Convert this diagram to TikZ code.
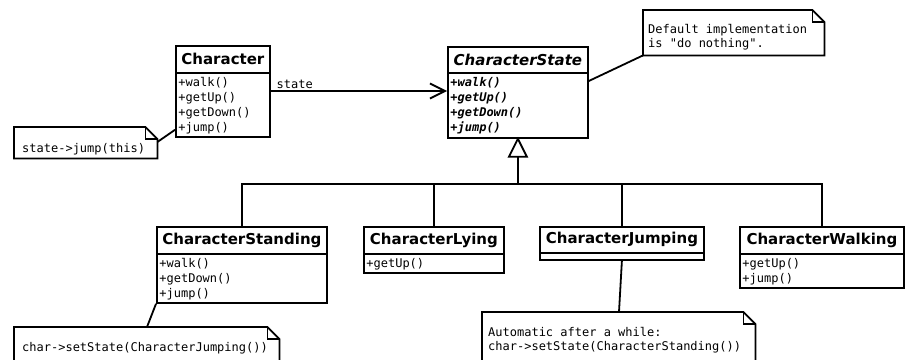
\documentclass[tikz,border=0pt]{standalone}
\usepackage{fontspec}
\setmainfont{DejaVu Sans}
\setmonofont{DejaVu Sans Mono}
\usetikzlibrary{arrows.meta}
\tikzset{
  umlline/.style={line width=1.8pt, line join=miter},
  titlebox/.style={draw, umlline, fill=white, inner sep=0pt, anchor=north west,
    font=\fontsize{15}{18}\selectfont\bfseries},
  compbox/.style={draw, umlline, fill=white, inner sep=0pt, anchor=north west,
    font=\fontsize{12}{15}\selectfont\ttfamily},
  notebox/.style={inner sep=0pt, anchor=north west, font=\fontsize{12}{14}\selectfont\ttfamily},
  assoc/.style={umlline, -{Straight Barb[length=15pt,width=15pt,line width=1.8pt]}},
  lbl/.style={inner sep=0pt, font=\fontsize{12}{14}\selectfont\ttfamily},
}
\newcommand\umlcomp[3]{\parbox[c][#2pt][t]{#1pt}{\setlength\leftskip{2.5pt}\vspace*{3pt}#3}}
\newcommand\umlnote[5]{\parbox[c][#2pt][t]{#1pt}{\setlength\leftskip{#4pt}\vspace*{#3pt}#5}}
\newcommand\dogear[1]{%
  \draw[umlline] (#1.north west) -- ([xshift=-12pt]#1.north east) -- ([yshift=-12pt]#1.north east)
     -- (#1.south east) -- (#1.south west) -- cycle;
  \draw[umlline] ([xshift=-12pt]#1.north east) |- ([yshift=-12pt]#1.north east);}
\begin{document}
\begin{tikzpicture}[x=1pt,y=-1pt]
\clip (0,0) rectangle (905,359);
\fill[white] (0,0) rectangle (905,359);

% Character
\node[titlebox, minimum width=94pt, minimum height=27pt] (cht) at (175,45) {Character};
\node[compbox] (chm) at (175,72) {\umlcomp{94}{64}{\strut+walk()\par\strut+getUp()\par\strut+getDown()\par\strut+jump()}};

% CharacterState
\node[titlebox, minimum width=140pt, minimum height=26pt] (cst) at (447,46) {\itshape CharacterState};
\node[compbox, font=\fontsize{12}{15}\selectfont\ttfamily\bfseries\itshape] (csm) at (447,72)
  {\umlcomp{140}{65}{\strut+walk()\par\strut+getUp()\par\strut+getDown()\par\strut+jump()}};

% Subclasses
\node[titlebox, minimum width=170pt, minimum height=27pt] (stdt) at (156,226) {CharacterStanding};
\node[compbox] (stdm) at (156,253) {\umlcomp{170}{49}{\strut+walk()\par\strut+getDown()\par\strut+jump()}};

\node[titlebox, minimum width=140pt, minimum height=27pt] (lyt) at (363,226) {CharacterLying};
\node[compbox] (lym) at (363,253) {\umlcomp{140}{19}{\strut+getUp()}};

\node[titlebox, minimum width=164pt, minimum height=26pt] (jmpt) at (539,226) {CharacterJumping};
\node[compbox, minimum width=164pt, minimum height=7pt] (jmpm) at (539,252) {};

\node[titlebox, minimum width=164pt, minimum height=27pt] (wlkt) at (739,226) {CharacterWalking};
\node[compbox] (wlkm) at (739,253) {\umlcomp{164}{34}{\strut+getUp()\par\strut+jump()}};

% Notes
\node[notebox] (n1) at (14,127) {\umlnote{143}{31}{15.2}{8}{\strut state->jump(this)}};
\dogear{n1}
\node[notebox] (n2) at (643,10) {\umlnote{181}{45}{13.2}{5}{\strut Default implementation\par\strut is "do nothing".}};
\dogear{n2}
\node[notebox] (n3) at (14,327) {\umlnote{265}{40}{14.2}{8}{\strut char->setState(CharacterJumping())}};
\dogear{n3}
\node[notebox] (n4) at (482,312) {\umlnote{273}{55}{14.2}{6}{\strut Automatic after a while:\par\strut char->setState(CharacterStanding())}};
\dogear{n4}

% Association
\draw[assoc] ([yshift=-19pt]chm.north east) -- node[lbl, pos=0, anchor=base west, xshift=5pt, yshift=2.5pt] (stlbl) {state} ([yshift=-19pt]csm.north west);

% Generalization
\draw[umlline, fill=white] (csm.south) -- ++(-9,18) -- ++(18,0) -- cycle;
\coordinate (bus) at ([yshift=-45pt]csm.south);
\draw[umlline] ([yshift=-18pt]csm.south) -- (bus);
\draw[umlline] (stdt.north) |- (wlkt.north |- bus) -- (wlkt.north);
\draw[umlline] (lyt.north) -- (lyt.north |- bus);
\draw[umlline] (jmpt.north) -- (jmpt.north |- bus);

% Note connectors
\draw[umlline] ([yshift=-15pt]n1.north east) -- ([yshift=8pt]chm.south west);
\draw[umlline] (n2.south west) -- ([yshift=-9pt]csm.north east);
\draw[umlline] ([xshift=133pt]n3.north west) -- (stdm.south west);
\draw[umlline] ([xshift=137pt]n4.north west) -- (jmpm.south);
\end{tikzpicture}
\end{document}
